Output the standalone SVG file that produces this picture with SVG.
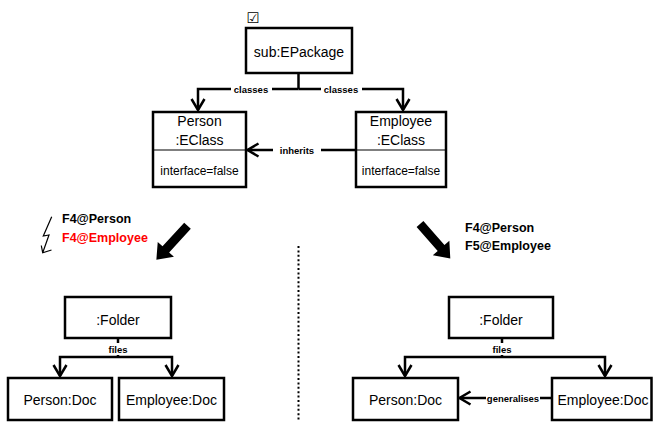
<svg xmlns="http://www.w3.org/2000/svg" width="653" height="422" viewBox="0 0 653 422">
<style>
.box{fill:#fff;stroke:#000;stroke-width:2.5}
.div{stroke:#000;stroke-width:1.2}
.t{font-family:"Liberation Sans",Arial,sans-serif;font-size:14px;fill:#000;text-anchor:middle}
.ts{font-family:"Liberation Sans",Arial,sans-serif;font-size:12px;fill:#000;text-anchor:middle}
.lbl{font-family:"Liberation Sans",Arial,sans-serif;font-size:9.5px;font-weight:bold;fill:#000;text-anchor:middle}
.ann{font-family:"Liberation Sans",Arial,sans-serif;font-size:12.5px;font-weight:bold;fill:#000}
.ln{fill:none;stroke:#000;stroke-width:2.5}
.arr{fill:none;stroke:#000;stroke-width:2.5;marker-end:url(#open)}
.bg{fill:#fff}
</style>
<defs>
<marker id="open" viewBox="-14 -9 18 18" refX="0" refY="0" markerWidth="18" markerHeight="18" markerUnits="userSpaceOnUse" orient="auto" overflow="visible">
<path d="M-11,-6.5 L0,0 L-11,6.5" fill="none" stroke="#000" stroke-width="2.5"/>
</marker>
<polygon id="bigarrow" points="0,-4.5 32,-4.5 32,-11 46,0 32,11 32,4.5 0,4.5" fill="#000"/>
</defs>
<rect width="653" height="422" fill="#fff"/>

<g id="connectors">
<polyline class="ln" points="298.5,73 298.5,89"/>
<polyline class="arr" points="298.5,89 198,89 198,110"/>
<polyline class="arr" points="298.5,89 403,89 403,110"/>
<rect class="bg" x="231" y="83" width="41" height="12"/>
<text class="lbl" x="251" y="92.5">classes</text>
<rect class="bg" x="321" y="83" width="41" height="12"/>
<text class="lbl" x="341" y="92.5">classes</text>
<line class="arr" x1="356" y1="150" x2="247.5" y2="150"/>
<rect class="bg" x="273" y="144" width="48" height="12"/>
<text class="lbl" x="297" y="153.5">inherits</text>
<polyline class="ln" points="118,338 118,357"/>
<polyline class="arr" points="118,357 60,357 60,376"/>
<polyline class="arr" points="118,357 172,357 172,376"/>
<rect class="bg" x="106" y="343" width="24" height="12"/>
<text class="lbl" x="118" y="353">files</text>
<polyline class="ln" points="502,338 502,357"/>
<polyline class="arr" points="502,357 405,357 405,376"/>
<polyline class="arr" points="502,357 605,357 605,376"/>
<rect class="bg" x="490" y="343" width="24" height="12"/>
<text class="lbl" x="502" y="353">files</text>
<line class="arr" x1="552" y1="398" x2="459.5" y2="398"/>
<rect class="bg" x="486" y="392" width="54" height="12"/>
<text class="lbl" x="513" y="401.5">generalises</text>
</g>

<g id="checkbox">
<text x="253" y="22.5" style="font-family:'DejaVu Sans',sans-serif;font-size:14.5px;fill:#000;text-anchor:middle">☑︎</text>
</g>

<g id="sub-epackage">
<rect class="box" x="246" y="28" width="106" height="45"/>
<text class="t" x="299" y="57">sub:EPackage</text>
</g>

<g id="person-eclass">
<rect class="box" x="153" y="112" width="93" height="75"/>
<line class="div" x1="153" y1="150" x2="246" y2="150"/>
<text class="t" x="199.5" y="126">Person</text>
<text class="t" x="199.5" y="145">:EClass</text>
<text class="ts" x="199.5" y="175">interface=false</text>
</g>

<g id="employee-eclass">
<rect class="box" x="356" y="112" width="90" height="75"/>
<line class="div" x1="356" y1="150" x2="446" y2="150"/>
<text class="t" x="401" y="126">Employee</text>
<text class="t" x="401" y="145">:EClass</text>
<text class="ts" x="401" y="175">interface=false</text>
</g>

<g id="left-annotation">
<path d="M51.7,216.7 L43.3,236 L49,235 L42.7,252.7 M41.3,245.5 L42.7,252.7 L51.5,250" fill="none" stroke="#000" stroke-width="1.2" stroke-linejoin="miter"/>
<text class="ann" x="62" y="223">F4@Person</text>
<text class="ann" x="62" y="242" style="fill:#ff0000">F4@Employee</text>
<use href="#bigarrow" transform="translate(187.5,225.8) rotate(132.6)"/>
</g>

<g id="right-annotation">
<use href="#bigarrow" transform="translate(420,224) rotate(48.8)"/>
<text class="ann" x="465" y="232">F4@Person</text>
<text class="ann" x="465" y="250">F5@Employee</text>
</g>

<g id="separator">
<line x1="298.5" y1="246" x2="298.5" y2="422" stroke="#000" stroke-width="2" stroke-dasharray="2 2.4"/>
</g>

<g id="folder-left">
<rect class="box" x="65" y="297" width="106" height="41"/>
<text class="t" x="118" y="325">:Folder</text>
</g>
<g id="person-doc-left">
<rect class="box" x="8" y="378" width="104" height="42"/>
<text class="t" x="60" y="405">Person:Doc</text>
</g>
<g id="employee-doc-left">
<rect class="box" x="119" y="378" width="105" height="42"/>
<text class="t" x="171.5" y="405">Employee:Doc</text>
</g>

<g id="folder-right">
<rect class="box" x="449" y="297" width="104" height="41"/>
<text class="t" x="501" y="325">:Folder</text>
</g>
<g id="person-doc-right">
<rect class="box" x="353" y="378" width="105" height="42"/>
<text class="t" x="405.5" y="405">Person:Doc</text>
</g>
<g id="employee-doc-right">
<rect class="box" x="552" y="378" width="99.5" height="42"/>
<text class="t" x="603" y="405">Employee:Doc</text>
</g>
</svg>
